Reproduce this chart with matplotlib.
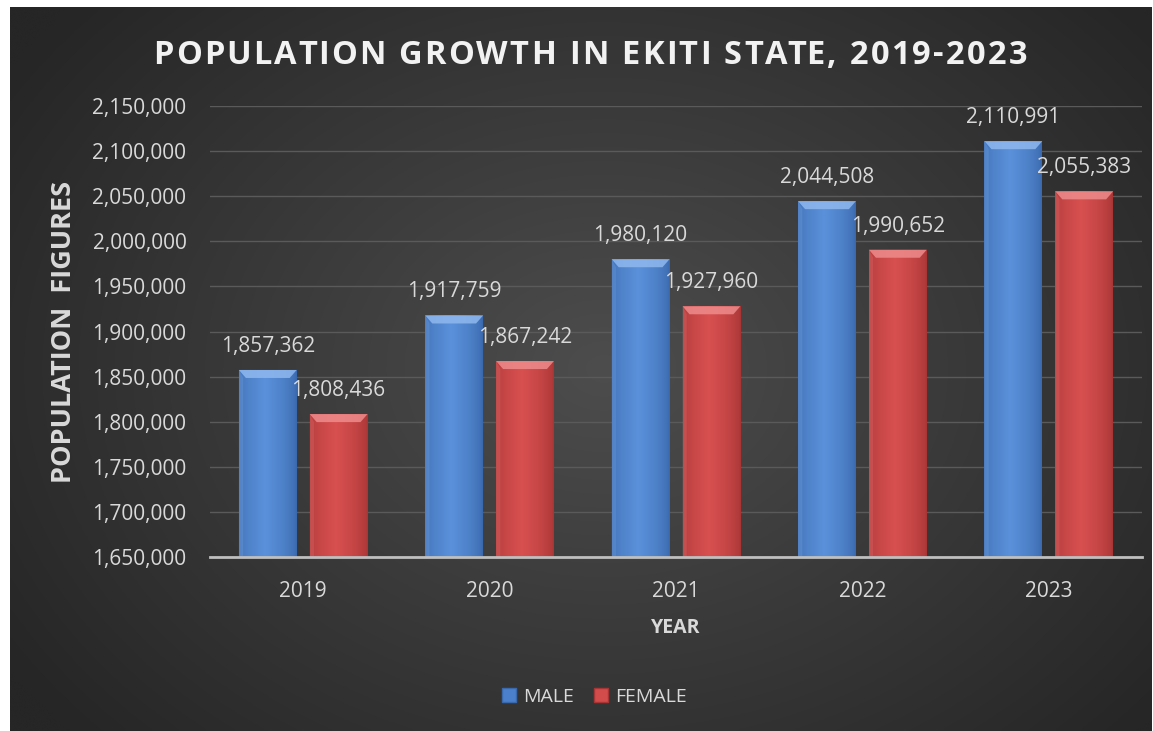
import numpy as np
import matplotlib
matplotlib.use("Agg")
import matplotlib.pyplot as plt
from matplotlib.patches import Polygon
from matplotlib.lines import Line2D
from matplotlib.colors import to_rgb

# ---------------- data ----------------
years = ["2019", "2020", "2021", "2022", "2023"]
male = [1857362, 1917759, 1980120, 2044508, 2110991]
female = [1808436, 1867242, 1927960, 1990652, 2055383]
series_names = ["MALE", "FEMALE"]
y_ticks = list(range(1650000, 2150001, 50000))
title = "POPULATION GROWTH IN EKITI STATE, 2019-2023"

plt.rcParams['font.family'] = ['Open Sans', 'DejaVu Sans']

W, H = 1153, 731
fig = plt.figure(figsize=(W / 100, H / 100), dpi=100, facecolor="white")

# ---------------- background panel (radial gradient) ----------------
bg = fig.add_axes([10 / W, 0, (W - 11) / W, (H - 7) / H], zorder=-10)
gx = np.linspace(0, 1, 400)
gy = np.linspace(0, 1, 260)
XX, YY = np.meshgrid(gx, gy)
r = np.sqrt(((XX - 0.52) / 0.62) ** 2 + ((YY - 0.50) / 0.75) ** 2)
r = np.clip(r, 0, 1)
c_in = np.array(to_rgb("#4d4d4d"))
c_out = np.array(to_rgb("#262626"))
img = c_in[None, None, :] * (1 - r[..., None]) + c_out[None, None, :] * r[..., None]
bg.imshow(img, extent=[0, 1, 0, 1], aspect="auto", interpolation="bicubic")
bg.set_axis_off()

# ---------------- main axes ----------------
left, right, top, bottom = 210, 1142, 106, 557
ax = fig.add_axes([left / W, (H - bottom) / H, (right - left) / W, (bottom - top) / H])
ax.set_facecolor("none")

ymin, ymax = y_ticks[0], y_ticks[-1]
x = np.arange(len(years))
bw = 0.31
off = 0.19
bars_m = ax.bar(x - off, np.array(male) - ymin, bw, bottom=ymin, color="#4a80cc", zorder=2)
bars_f = ax.bar(x + off, np.array(female) - ymin, bw, bottom=ymin, color="#cf4747", zorder=2)

ax.set_xlim(-0.5, len(years) - 0.5)
ax.set_ylim(ymin, ymax)

# px -> data conversions
px_x = (len(years)) / (right - left)
px_y = (ymax - ymin) / (bottom - top)


def shade(patch, edge, mid, bevel):
    x0, y0 = patch.get_x(), patch.get_y()
    w, h = patch.get_width(), patch.get_height()
    t = np.linspace(0, 1, 64)
    prof = np.clip(1 - np.abs(t - 0.45) / 0.55, 0, 1) ** 0.6
    e = np.array(to_rgb(edge)); m = np.array(to_rgb(mid))
    row = e[None, :] * (1 - prof[:, None]) + m[None, :] * prof[:, None]
    im = ax.imshow(row[None, :, :], extent=[x0, x0 + w, y0, y0 + h], aspect="auto",
                   interpolation="bicubic", zorder=2.1)
    im.set_clip_path(patch)
    dx = 7 * px_x
    dy = 8 * px_y
    ytop = y0 + h
    poly = Polygon([(x0, ytop), (x0 + w, ytop), (x0 + w - dx, ytop - dy), (x0 + dx, ytop - dy)],
                   closed=True, facecolor=bevel, edgecolor="none", alpha=0.85, zorder=2.2)
    ax.add_patch(poly)
    sl = Polygon([(x0, ytop), (x0 + dx * 0.6, ytop - dy), (x0 + dx * 0.6, y0), (x0, y0)],
                 closed=True, facecolor=bevel, alpha=0.2, edgecolor="none", zorder=2.2)
    ax.add_patch(sl)


for p in bars_m:
    shade(p, "#3a68ad", "#5a91da", "#8fb8ee")
for p in bars_f:
    shade(p, "#a83535", "#d85050", "#ee8c8c")

ax.set_xlim(-0.5, len(years) - 0.5)
ax.set_ylim(ymin, ymax)

# data labels
lab_col = "#d9d9d9"
for xs, vals in ((x - off, male), (x + off, female)):
    for xi, v in zip(xs, vals):
        ax.annotate(f"{v:,}", (xi, v), xytext=(0, 17), textcoords="offset points",
                    ha="center", va="center", fontsize=15, color=lab_col)

# grid / spines
ax.set_yticks(y_ticks)
ax.set_yticklabels([f"{v:,}" for v in y_ticks])
ax.set_xticks(x)
ax.set_xticklabels(years)
ax.yaxis.grid(True, color="#5a5a5a", linewidth=1)
ax.set_axisbelow(True)
for s in ("top", "right", "left"):
    ax.spines[s].set_visible(False)
ax.spines["bottom"].set_color("#bfbfbf")
ax.spines["bottom"].set_linewidth(2)
ax.spines["bottom"].set_zorder(3)
ax.tick_params(axis="both", length=0, labelsize=15, labelcolor=lab_col)
ax.tick_params(axis="y", pad=17)
ax.tick_params(axis="x", pad=17)

# title with letter spacing
renderer = fig.canvas.get_renderer()
tsize = 23.5
tkw = dict(fontsize=tsize, fontweight="bold", color="#f2f2f2", va="center", ha="left")
probe = fig.text(0, 0, title, **tkw)
full_w = probe.get_window_extent(renderer).width
probe.remove()
target_w = 874
spacing = (target_w - full_w) / (len(title) - 1)
x_start = 590 - target_w / 2
ty = 1 - 55 / H
for i, ch in enumerate(title):
    if i == 0:
        pw = 0.0
    else:
        pr = fig.text(0, 0, title[:i] + "|", **tkw)
        pb = fig.text(0, 0, "|", **tkw)
        pw = pr.get_window_extent(renderer).width - pb.get_window_extent(renderer).width
        pr.remove(); pb.remove()
    fig.text((x_start + pw + i * spacing) / W, ty, ch, **tkw)

fig.text(64 / W, 1 - 332 / H, "POPULATION  FIGURES", rotation=90,
         ha="center", va="center", fontsize=19.5, fontweight="bold", color="#d9d9d9")
fig.text(676 / W, 1 - 628 / H, "YEAR", ha="center", va="center",
         fontsize=14, fontweight="bold", color="#d9d9d9")

# legend
handles = [Line2D([], [], marker="s", linestyle="none", markersize=10,
                  markerfacecolor="#4a80cc", markeredgecolor="#3a68ad"),
           Line2D([], [], marker="s", linestyle="none", markersize=10,
                  markerfacecolor="#d24c4c", markeredgecolor="#a83535")]
fig.legend(handles, series_names, loc="center", bbox_to_anchor=(594 / W, 1 - 697 / H),
           ncol=2, frameon=False, fontsize=14, labelcolor=lab_col,
           handlelength=0.8, handletextpad=0.3, columnspacing=1.0)

fig.savefig("out.png", dpi=100, facecolor="white")
